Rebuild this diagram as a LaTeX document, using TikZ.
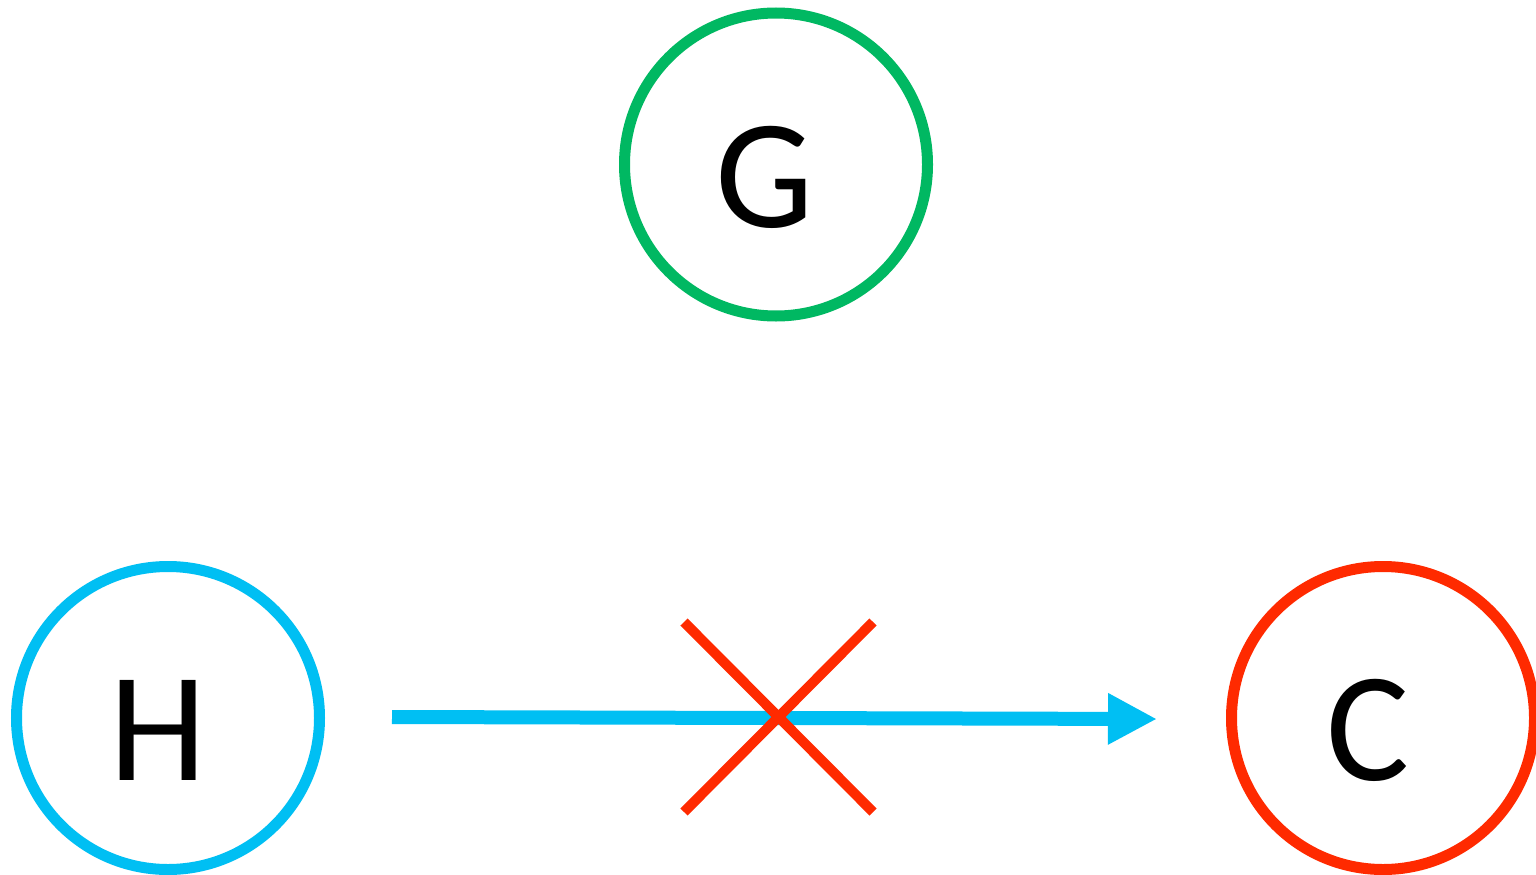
\documentclass[tikz,border=0pt]{standalone}
\usepackage{fontspec}
\setmainfont{Carlito}
\usetikzlibrary{arrows.meta}
\definecolor{ringgreen}{HTML}{00B862}
\definecolor{ringblue}{HTML}{00BFF3}
\definecolor{ringred}{HTML}{FF2A00}
\tikzset{
  ring/.style={circle, draw=#1, line width=11pt, minimum size=303pt, inner sep=0pt, fill=white},
  letter/.style={font=\fontsize{156}{160}\selectfont, text=black, inner sep=0pt},
  flow/.style={draw=ringblue, line width=14pt, -{Triangle[length=49pt, width=48pt]}},
  strike/.style={draw=ringred, line width=10pt}
}
\begin{document}
\begin{tikzpicture}[x=1pt, y=-1pt]
  \useasboundingbox (0,0) rectangle (1536,875);
  \fill[white] (0,0) rectangle (1536,875);
  \begin{scope}
    \clip (0,0) rectangle (1536,875);
    % the three variables
    \node[ring=ringgreen] (G) at (776,164.5) {};
    \node[ring=ringblue]  (H) at (168,718) {};
    \node[ring=ringred]   (C) at (1383,718) {};
    \node[letter] (Gl) at ([xshift=-11pt,yshift=-13pt]G.center) {G};
    \node[letter] (Hl) at ([xshift=-10pt,yshift=-12pt]H.center) {H};
    \node[letter] (Cl) at ([xshift=-15pt,yshift=-12pt]C.center) {C};
    % blocked influence from H to C
    \coordinate (arrowStart) at (392,717);
    \coordinate (arrowEnd) at (1157,719);
    \draw[flow] (arrowStart) -- (arrowEnd);
    \coordinate (xa) at (684,622);
    \coordinate (xb) at (873,812);
    \coordinate (xc) at (873,622);
    \coordinate (xd) at (684,812);
    \draw[strike] (xa) -- (xb);
    \draw[strike] (xc) -- (xd);
  \end{scope}
\end{tikzpicture}
\end{document}
